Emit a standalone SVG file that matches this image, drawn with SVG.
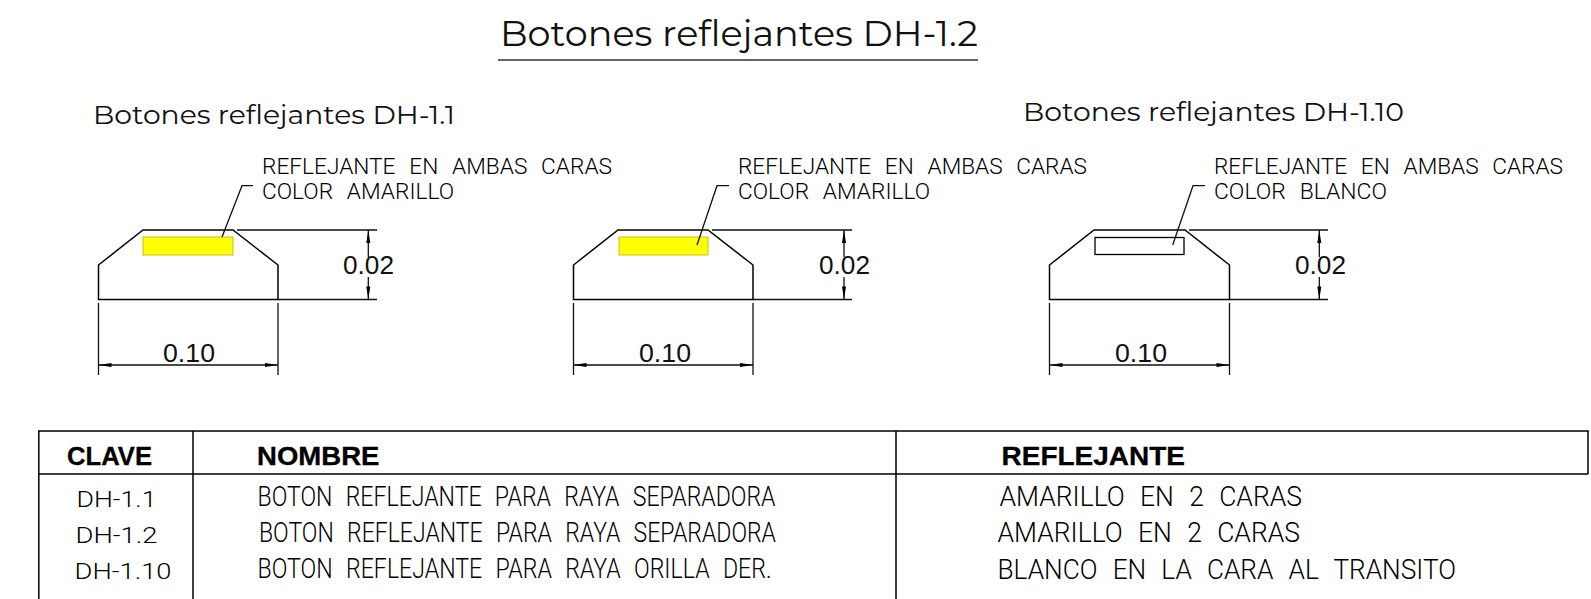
<svg xmlns="http://www.w3.org/2000/svg" width="1591" height="599" viewBox="0 0 1591 599">
<style>
.l{fill:none;stroke:#000;stroke-width:1.5}
.d{fill:none;stroke:#111;stroke-width:1.3}
.t{font-family:"Roboto","Liberation Sans",Arial,sans-serif;font-weight:300;fill:#000}
.c{font-size:22px;word-spacing:8px}
.r{font-family:"Liberation Sans",Arial,sans-serif;font-size:26px;fill:#111}
.n{font-size:27px;word-spacing:9px}
.k{font-size:22px}
.b{font-family:"Liberation Sans",Arial,sans-serif;font-weight:700;font-size:26px;fill:#000;stroke:#000;stroke-width:.3}
.h{font-family:"Montserrat","Lato","Inter",sans-serif;font-weight:400;fill:#111}
.a{fill:#000}
</style>
<g id="title">
<text class="h" x="500" y="46" font-size="36" textLength="478" lengthAdjust="spacingAndGlyphs">Botones reflejantes DH-1.2</text>
<path d="M498 60H978" stroke="#333" stroke-width="1.4"/>
</g>
<text class="h" x="93" y="124" font-size="25.500" textLength="362" lengthAdjust="spacingAndGlyphs">Botones reflejantes DH-1.1</text>
<text class="h" x="1023" y="121" font-size="25.500" textLength="381" lengthAdjust="spacingAndGlyphs">Botones reflejantes DH-1.10</text>

<g id="boton-1">
<path class="l" d="M98.500 299.500V265L143 230H233L278 265V299.500H98.500Z"/>
<rect x="143" y="237" width="90" height="18" fill="#ff0" stroke="#b9b000" stroke-width="0.8"/>
<text class="t c" x="262" y="174.300" textLength="350" lengthAdjust="spacingAndGlyphs">REFLEJANTE EN AMBAS CARAS</text>
<text class="t c" x="262" y="199" textLength="192" lengthAdjust="spacingAndGlyphs">COLOR AMARILLO</text>
<text class="r" x="343" y="274" textLength="51" lengthAdjust="spacingAndGlyphs">0.02</text>
<text class="r" x="163" y="362" textLength="52" lengthAdjust="spacingAndGlyphs">0.10</text>
</g>
<g id="boton-2">
<path class="l" d="M573.500 299.500V265L618 230H708L753 265V299.500H573.500Z"/>
<rect x="619" y="237" width="89" height="18" fill="#ff0" stroke="#b9b000" stroke-width="0.8"/>
<text class="t c" x="738" y="174.300" textLength="349" lengthAdjust="spacingAndGlyphs">REFLEJANTE EN AMBAS CARAS</text>
<text class="t c" x="738" y="199" textLength="192" lengthAdjust="spacingAndGlyphs">COLOR AMARILLO</text>
<text class="r" x="819" y="274" textLength="51" lengthAdjust="spacingAndGlyphs">0.02</text>
<text class="r" x="639" y="362" textLength="52" lengthAdjust="spacingAndGlyphs">0.10</text>
</g>
<g id="boton-3">
<path class="l" d="M1049.500 299.500V265L1094 230H1185L1229.500 265V299.500H1049.500Z"/>
<rect x="1095" y="237.500" width="89" height="17" fill="#fff" stroke="#000" stroke-width="1.3"/>
<text class="t c" x="1214" y="174.300" textLength="349" lengthAdjust="spacingAndGlyphs">REFLEJANTE EN AMBAS CARAS</text>
<text class="t c" x="1214" y="199" textLength="173" lengthAdjust="spacingAndGlyphs">COLOR BLANCO</text>
<text class="r" x="1295" y="274" textLength="51" lengthAdjust="spacingAndGlyphs">0.02</text>
<text class="r" x="1115" y="362" textLength="52" lengthAdjust="spacingAndGlyphs">0.10</text>
</g>

<g id="connectors">
<path class="d" d="M222 237L242 185.700H253"/>
<path class="d" d="M697 245L717 185.700H729"/>
<path class="d" d="M1172.700 245L1193 185.700H1205"/>
<path class="d" d="M237 230H377M278 299.500H377M368.300 230V257M368.300 277V299.500"/>
<path class="d" d="M712 230H852M753 299.500H852M844 230V257M844 277V299.500"/>
<path class="d" d="M1189 230H1328M1229.500 299.500H1328M1319.300 230V257M1319.300 277V299.500"/>
<path class="d" d="M98.500 303V375M278 303V375M573.500 303V375M753 303V375M1049.500 303V375M1229.500 303V375"/>
<path class="d" d="M98.500 365H278M573.500 365H753M1049.500 365H1229.500"/>
<g class="a">
<path d="M98.500 365l13-2v4zM278 365l-13-2v4zM573.500 365l13-2v4zM753 365l-13-2v4zM1049.500 365l13-2v4zM1229.500 365l-13-2v4z"/>
<path d="M368.300 230l-2 13h4zM368.300 299.500l-2-13h4zM844 230l-2 13h4zM844 299.500l-2-13h4zM1319.300 230l-2 13h4zM1319.300 299.500l-2-13h4z"/>
</g>
</g>

<g id="tabla">
<path class="l" d="M38.800 599V431H1588V474M38.800 474H1588M193 431V599M896 431V599"/>
<text class="b" x="67" y="465" textLength="85" lengthAdjust="spacingAndGlyphs">CLAVE</text>
<text class="b" x="257" y="465" textLength="122.500" lengthAdjust="spacingAndGlyphs">NOMBRE</text>
<text class="b" x="1001.500" y="465" textLength="183.500" lengthAdjust="spacingAndGlyphs">REFLEJANTE</text>
<text class="t k" x="76.500" y="507" textLength="80" lengthAdjust="spacingAndGlyphs">DH-1.1</text>
<text class="t k" x="75.500" y="543" textLength="82" lengthAdjust="spacingAndGlyphs">DH-1.2</text>
<text class="t k" x="74.500" y="579" textLength="97" lengthAdjust="spacingAndGlyphs">DH-1.10</text>
<text class="t n" x="257.500" y="506" textLength="518" lengthAdjust="spacingAndGlyphs">BOTON REFLEJANTE PARA RAYA SEPARADORA</text>
<text class="t n" x="259" y="542" textLength="517" lengthAdjust="spacingAndGlyphs">BOTON REFLEJANTE PARA RAYA SEPARADORA</text>
<text class="t n" x="257.500" y="578" textLength="514" lengthAdjust="spacingAndGlyphs">BOTON REFLEJANTE PARA RAYA ORILLA DER.</text>
<text class="t n" x="999.500" y="506" textLength="302.500" lengthAdjust="spacingAndGlyphs">AMARILLO EN 2 CARAS</text>
<text class="t n" x="997.500" y="542" textLength="302.500" lengthAdjust="spacingAndGlyphs">AMARILLO EN 2 CARAS</text>
<text class="t n" x="997.500" y="579" textLength="458.500" lengthAdjust="spacingAndGlyphs">BLANCO EN LA CARA AL TRANSITO</text>
</g>
</svg>
